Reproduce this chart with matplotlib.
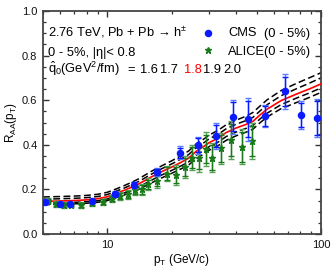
import matplotlib
matplotlib.use("Agg")
import matplotlib.pyplot as plt
from matplotlib.ticker import FixedLocator, NullFormatter, MultipleLocator

plt.rcParams['font.family'] = ['Liberation Sans', 'DejaVu Sans']
plt.rcParams['mathtext.fontset'] = 'custom'
plt.rcParams['mathtext.rm'] = 'Liberation Sans'
plt.rcParams['mathtext.it'] = 'Liberation Sans:italic'
plt.rcParams['mathtext.bf'] = 'Liberation Sans:bold'

# ---- data ----
cms_pt = [5.1, 6.0, 6.7, 8.5, 10.9, 13.3, 17.0, 21.8, 26.6, 32.3, 38.7, 45.3, 54.8, 67.7, 80.5, 95.8]
cms_raa = [0.145, 0.135, 0.135, 0.148, 0.181, 0.220, 0.279, 0.365, 0.398, 0.440, 0.526, 0.515, 0.530, 0.640, 0.534, 0.520]
cms_sys = [0.010, 0.009, 0.009, 0.010, 0.012, 0.014, 0.018, 0.028, 0.038, 0.058, 0.076, 0.097, 0.050, 0.078, 0.062, 0.085]
cms_stat = [0.006, 0.006, 0.006, 0.007, 0.009, 0.011, 0.014, 0.022, 0.032, 0.050, 0.066, 0.082, 0.044, 0.064, 0.055, 0.078]

alice_pt = [5.25, 5.75, 6.25, 6.75, 7.5, 8.5, 9.5, 10.5, 11.5, 12.5, 13.5, 14.5, 15.5, 17, 19, 21, 23, 25, 27, 29, 31, 34, 38, 42.5, 47.5]
alice_raa = [0.150, 0.134, 0.130, 0.132, 0.130, 0.138, 0.145, 0.159, 0.171, 0.178, 0.196, 0.200, 0.223, 0.238, 0.271, 0.264, 0.301, 0.343, 0.340, 0.381, 0.343, 0.385, 0.422, 0.391, 0.418]
alice_sys = [0.012, 0.012, 0.012, 0.012, 0.013, 0.013, 0.014, 0.015, 0.017, 0.019, 0.022, 0.024, 0.027, 0.030, 0.035, 0.045, 0.050, 0.055, 0.060, 0.075, 0.065, 0.070, 0.085, 0.078, 0.080]
alice_stat = [0.008, 0.008, 0.008, 0.008, 0.009, 0.009, 0.010, 0.011, 0.013, 0.015, 0.017, 0.019, 0.021, 0.024, 0.028, 0.036, 0.040, 0.045, 0.050, 0.063, 0.055, 0.060, 0.072, 0.066, 0.068]

theory_pt = [5, 6, 7, 8, 9, 10, 11, 12, 13, 14, 16, 18, 20, 22, 24, 26, 28, 30, 33, 36, 40, 45, 48, 52, 56, 65, 77, 88, 100]
raa_q16 = [0.166, 0.168, 0.170, 0.173, 0.178, 0.187, 0.202, 0.217, 0.232, 0.247, 0.280, 0.306, 0.328, 0.350, 0.372, 0.402, 0.423, 0.444, 0.465, 0.490, 0.510, 0.530, 0.545, 0.575, 0.602, 0.643, 0.676, 0.700, 0.723]
raa_q17 = [0.156, 0.158, 0.160, 0.163, 0.168, 0.177, 0.192, 0.206, 0.221, 0.235, 0.267, 0.293, 0.314, 0.335, 0.356, 0.386, 0.406, 0.427, 0.447, 0.472, 0.492, 0.510, 0.523, 0.553, 0.580, 0.620, 0.652, 0.676, 0.700]
raa_q18 = [0.146, 0.148, 0.150, 0.153, 0.158, 0.167, 0.182, 0.196, 0.210, 0.224, 0.255, 0.280, 0.300, 0.320, 0.340, 0.370, 0.390, 0.410, 0.430, 0.455, 0.475, 0.493, 0.505, 0.535, 0.560, 0.598, 0.628, 0.650, 0.673]
raa_q19 = [0.138, 0.140, 0.142, 0.145, 0.149, 0.157, 0.171, 0.184, 0.197, 0.210, 0.240, 0.265, 0.285, 0.304, 0.323, 0.353, 0.372, 0.392, 0.412, 0.437, 0.457, 0.475, 0.487, 0.517, 0.542, 0.580, 0.610, 0.632, 0.655]
raa_q20 = [0.131, 0.133, 0.135, 0.138, 0.142, 0.150, 0.163, 0.175, 0.187, 0.200, 0.228, 0.252, 0.272, 0.291, 0.309, 0.338, 0.356, 0.376, 0.396, 0.420, 0.440, 0.458, 0.470, 0.500, 0.525, 0.562, 0.590, 0.612, 0.635]
qhat_labels = ['1.6', '1.7', '1.8', '1.9', '2.0']

W, H = 332, 269
fig = plt.figure(figsize=(W / 100, H / 100), dpi=100)
L, R_, T, B = 43, 321, 11, 234
ax = fig.add_axes([L / W, 1 - B / H, (R_ - L) / W, (B - T) / H])

# theory curves
for y in (raa_q16, raa_q17, raa_q19, raa_q20):
    ax.plot(theory_pt, y, color='black', lw=1.1, dashes=(4.5, 2.2), zorder=2)
ax.plot(theory_pt, raa_q18, color='#ff0000', lw=1.2, zorder=3)

# ALICE
ax.errorbar(alice_pt, alice_raa, yerr=alice_sys, fmt='none', ecolor='#5aa05a', elinewidth=1.0,
            capsize=2.5, capthick=1.0, zorder=4)
ax.errorbar(alice_pt, alice_raa, yerr=alice_stat, fmt='*', color='#1a7a1a', ecolor='#1a7a1a',
            markersize=5, elinewidth=1.0, capsize=2.5, capthick=1.0, zorder=5)
# CMS
ax.errorbar(cms_pt, cms_raa, yerr=cms_sys, fmt='none', ecolor='#5a7dff', elinewidth=1.0,
            capsize=2.5, capthick=1.0, zorder=6)
ax.errorbar(cms_pt, cms_raa, yerr=cms_stat, fmt='o', color='#0a1aff', ecolor='#0a1aff',
            markersize=4.4, elinewidth=1.0, capsize=2.5, capthick=1.0, zorder=7)

ax.set_xscale('log')
ax.set_xlim(5, 100)
ax.set_ylim(0, 1.0)

ax.xaxis.set_major_locator(FixedLocator([10, 100]))
ax.xaxis.set_minor_locator(FixedLocator([5, 6, 7, 8, 9, 20, 30, 40, 50, 60, 70, 80, 90]))
ax.xaxis.set_minor_formatter(NullFormatter())
ax.set_xticklabels(['10', '100'])
ax.yaxis.set_major_locator(MultipleLocator(0.2))
ax.yaxis.set_minor_locator(MultipleLocator(0.05))
ax.set_yticks([0.0, 0.2, 0.4, 0.6, 0.8, 1.0])
ax.set_yticklabels(['0.0', '0.2', '0.4', '0.6', '0.8', '1.0'])

ax.tick_params(which='both', direction='in', top=True, right=True, labelsize=8,
               color='#333333', labelcolor='#111111')
ax.tick_params(which='major', length=4.5, width=1.0, pad=4)
ax.tick_params(which='minor', length=2.5, width=0.9)
for s in ax.spines.values():
    s.set_linewidth(1.3)
    s.set_color('#444444')

ax.set_xlabel(r'p$_\mathrm{T}$ (GeV/c)', fontsize=8.5, labelpad=1.5)
ax.set_ylabel(r'R$_\mathrm{AA}$(p$_\mathrm{T}$)', fontsize=8.5, labelpad=2)

def fx(px):
    return (px - L) / (R_ - L)

def fy(py):
    return (B - py) / (B - T)

fs = 9.3
ax.text(fx(48), fy(37), r'2.76 TeV, Pb + Pb → h$^{\pm}$', transform=ax.transAxes, fontsize=fs, va='baseline')
ax.text(fx(48), fy(56), r'0 - 5%, |η|< 0.8', transform=ax.transAxes, fontsize=fs, va='baseline')
ax.text(fx(48), fy(73), r'$\hat{\mathrm{q}}_0$(GeV$^2$/fm)', transform=ax.transAxes, fontsize=fs, va='baseline')
ax.text(fx(127.5), fy(73), '=', transform=ax.transAxes, fontsize=fs, va='baseline')
q_x = [140, 160, 184, 203, 223]
q_c = ['black', 'black', '#ff0000', 'black', 'black']
for lab, xx, cc in zip(qhat_labels, q_x, q_c):
    ax.text(fx(xx), fy(73), lab, transform=ax.transAxes, fontsize=fs, va='baseline', color=cc)

ax.plot([fx(207.5)], [fy(32.5)], 'o', color='#0a1aff', markersize=4.4, transform=ax.transAxes, clip_on=False)
ax.plot([fx(207.5)], [fy(50)], '*', color='#1a7a1a', markersize=5, transform=ax.transAxes, clip_on=False)
ax.text(fx(228), fy(36.5), 'CMS', transform=ax.transAxes, fontsize=fs, va='baseline')
ax.text(fx(264), fy(36.5), '(0 - 5%)', transform=ax.transAxes, fontsize=fs, va='baseline')
ax.text(fx(228), fy(55), 'ALICE', transform=ax.transAxes, fontsize=fs, va='baseline')
ax.text(fx(264), fy(55), '(0 - 5%)', transform=ax.transAxes, fontsize=fs, va='baseline')

fig.savefig('out.png', dpi=100)
